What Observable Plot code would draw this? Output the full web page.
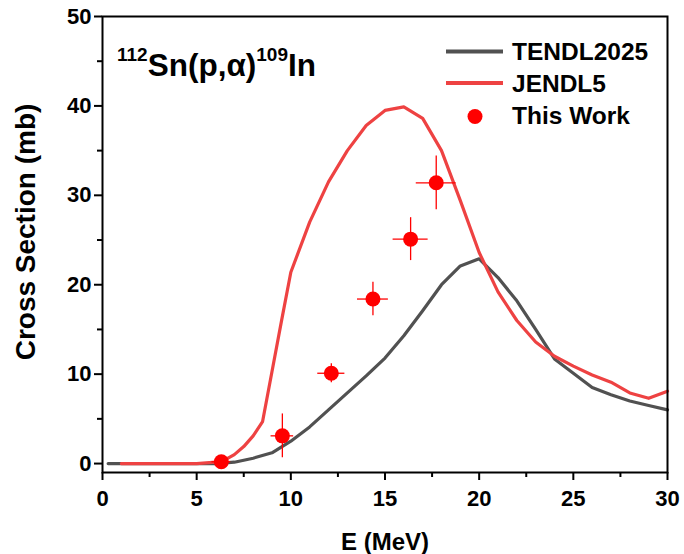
<!DOCTYPE html>
<html><head><meta charset="utf-8">
<script src="https://cdn.jsdelivr.net/npm/d3@7"></script>
<script src="https://cdn.jsdelivr.net/npm/@observablehq/plot@0.6"></script>
<style>
body{margin:0;background:#fff;}
#wrap{position:relative;width:684px;height:554px;}
#wrap svg{position:absolute;left:0;top:0;}
</style></head><body><div id="wrap"></div>
<script>
// TENDL2025 evaluation
const tendlE  = [0.3,1,2,3,4,5,6,7,8,9,10,11,12,13,14,15,16,17,18,19,20,21,22,23,24,25,26,27,28,29,30];
const tendlXS = [0,0,0,0,0,0,0,0.15,0.6,1.2,2.5,4.1,6.0,7.9,9.8,11.8,14.3,17.1,20.0,22.1,22.9,20.8,18.2,15.0,11.7,10.1,8.5,7.7,7.0,6.5,6.0];
// JENDL5 evaluation
const jendlE  = [1,2,3,4,5,6,6.5,7,7.5,8,8.5,9,9.5,10,11,12,13,14,15,16,17,18,19,20,21,22,23,24,25,26,27,28,29,30];
const jendlXS = [0,0,0,0,0,0.15,0.4,1.0,1.9,3.1,4.7,10.3,15.9,21.4,27.0,31.5,35.0,37.8,39.5,39.9,38.6,35.0,29.4,23.6,19.2,16.0,13.6,12.0,10.9,9.9,9.1,7.9,7.3,8.1];
// This work (measured)
const expE   = [6.31,9.55,12.15,14.36,16.36,17.72];
const expXS  = [0.2,3.1,10.1,18.4,25.1,31.4];
const expDE  = [0.5,0.6,0.72,0.82,0.93,1.06];
const expDXS = [0.2,2.45,1.06,1.87,2.4,3.0];
// axis ticks
const xMajor = [0,5,10,15,20,25,30];
const xMinor = [2.5,7.5,12.5,17.5,22.5,27.5];
const yMajor = [0,10,20,30,40,50];
const yMinor = [5,15,25,35,45];

const GRAY = "#515151", RED = "#ee4242", DOT = "#ff0000";
const tendl = tendlE.map((e,i)=>({e, xs:tendlXS[i]}));
const jendl = jendlE.map((e,i)=>({e, xs:jendlXS[i]}));
const exp = expE.map((e,i)=>({e, xs:expXS[i], de:expDE[i], dxs:expDXS[i]}));

const chart = Plot.plot({
  width: 684, height: 554,
  marginLeft: 102, marginRight: 17, marginTop: 16, marginBottom: 82,
  x: {domain:[0,30]},
  y: {domain:[-1,50]},
  style: {fontFamily:"'Liberation Sans', Arial, sans-serif", fontSize:"22px", fontWeight:"bold", color:"#000", background:"transparent"},
  marks: [
    Plot.lineY(tendl, {x:"e", y:"xs", stroke:GRAY, strokeWidth:3.2}),
    Plot.lineY(jendl, {x:"e", y:"xs", stroke:RED, strokeWidth:3.2}),
    Plot.ruleY(exp, {y:"xs", x1:d=>d.e-d.de, x2:d=>d.e+d.de, stroke:DOT, strokeWidth:1.3}),
    Plot.ruleX(exp, {x:"e", y1:d=>d.xs-d.dxs, y2:d=>d.xs+d.dxs, stroke:DOT, strokeWidth:1.3}),
    Plot.dot(exp, {x:"e", y:"xs", r:7.5, fill:DOT}),
    Plot.frame({stroke:"#000", strokeWidth:2}),
    Plot.axisX(xMajor, {tickSize:8, tickPadding:10, strokeWidth:2, label:null, tickFormat:d=>String(d)}),
    Plot.axisX(xMinor, {tickSize:5, strokeWidth:2, label:null, tickFormat:()=>""}),
    Plot.axisY(yMajor, {tickSize:8, tickPadding:3, strokeWidth:2, label:null, tickFormat:d=>String(d)}),
    Plot.axisY(yMinor, {tickSize:5, strokeWidth:2, label:null, tickFormat:()=>""})
  ]
});
const wrap = document.getElementById("wrap");
wrap.appendChild(chart);

// overlay: titles and legend
const ns = "http://www.w3.org/2000/svg";
const ov = document.createElementNS(ns, "svg");
ov.setAttribute("width", 684); ov.setAttribute("height", 554);
ov.setAttribute("font-family", "'Liberation Sans', Arial, sans-serif");
ov.setAttribute("font-weight", "bold");
ov.innerHTML = `
  <text x="117" y="76" font-size="31.5">
    <tspan font-size="19" dy="-15">112</tspan><tspan dy="15">Sn(p,α)</tspan><tspan font-size="19" dy="-15">109</tspan><tspan dy="15">In</tspan>
  </text>
  <text x="385" y="550" font-size="24" text-anchor="middle">E (MeV)</text>
  <text transform="translate(35,232) rotate(-90)" font-size="28" text-anchor="middle">Cross Section (mb)</text>
  <line x1="446" x2="503" y1="51.5" y2="51.5" stroke="${GRAY}" stroke-width="4"/>
  <line x1="446" x2="503" y1="83" y2="83" stroke="${RED}" stroke-width="4"/>
  <circle cx="475" cy="116.5" r="7.5" fill="${DOT}"/>
  <text x="512" y="60" font-size="24.5">TENDL2025</text>
  <text x="512" y="91.5" font-size="24.5">JENDL5</text>
  <text x="512" y="124" font-size="24.5">This Work</text>
`;
wrap.appendChild(ov);
</script>
</body></html>
